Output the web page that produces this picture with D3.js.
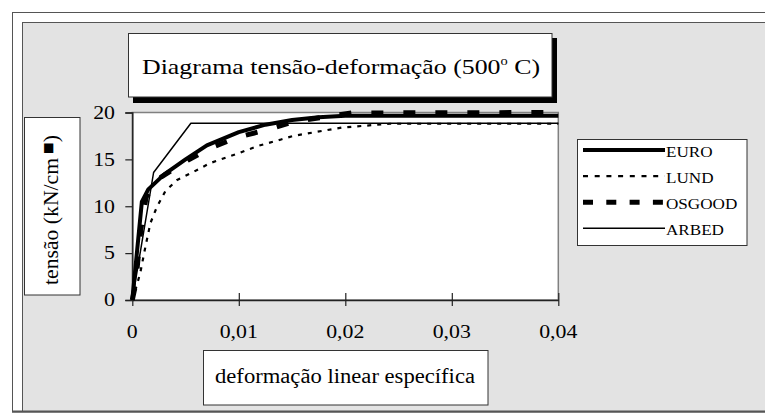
<!DOCTYPE html>
<html><head><meta charset="utf-8">
<script src="https://cdn.jsdelivr.net/npm/d3@7"></script>
<style>body{margin:0;background:#fff}svg{display:block}</style>
</head><body>
<svg id="c" width="765" height="413"></svg>
<script>
// ---- data (strain, stress kN/cm²) ----
const seriesNames = ["EURO", "LUND", "OSGOOD", "ARBED"];
const euro   = [[0,0],[0.0009,10.5],[0.0015,11.8],[0.003,13.4],[0.005,15.0],[0.007,16.5],[0.01,17.9],[0.0125,18.7],[0.015,19.2],[0.0175,19.5],[0.02,19.65],[0.04,19.65]];
const lund   = [[0,0],[0.0004,1.5],[0.00075,2.9],[0.0012,5.5],[0.0017,8.2],[0.0023,9.9],[0.0031,11.6],[0.0042,12.8],[0.0058,13.7],[0.0073,14.6],[0.0101,15.7],[0.0117,16.4],[0.0139,17.1],[0.0151,17.5],[0.0197,18.4],[0.0242,18.8],[0.04,18.8]];
const osgood = [[0,0],[0.0003,1.6],[0.0008,7.5],[0.0013,11.0],[0.0027,13.1],[0.0052,14.9],[0.0073,16.2],[0.01,17.4],[0.0128,18.2],[0.0151,19.0],[0.0206,19.95],[0.04,20.0]];
const arbed  = [[0,0],[0.002,13.6],[0.0055,18.85],[0.04,18.85]];
const xTicks = [0, 0.01, 0.02, 0.03, 0.04];
const xTickLabels = ["0", "0,01", "0,02", "0,03", "0,04"];
const yTicks = [0, 5, 10, 15, 20];
const yTickLabels = ["0", "5", "10", "15", "20"];
const titleMain = "Diagrama tensão-deformação (500";
const titleSup = "o";
const titleEnd = " C)";
const yTitle = "tensão (kN/cm";
const xTitle = "deformação linear específica";

const FONT = '"Liberation Serif", "Times New Roman", Tinos';
const svg = d3.select("#c");
const SX = 1.18; // horizontal stretch of small text

// frames
svg.append("rect").attr("x",12.5).attr("y",12.5).attr("width",800).attr("height",399.5)
  .attr("fill","#fff").attr("stroke","#555").attr("stroke-width",1);
svg.append("rect").attr("x",22.5).attr("y",22.5).attr("width",800).attr("height",389)
  .attr("fill","#e3e3e3").attr("stroke","#555").attr("stroke-width",1);
svg.append("line").attr("x1",12).attr("x2",765).attr("y1",411.5).attr("y2",411.5).attr("stroke","#555").attr("stroke-width",2);

const x = d3.scaleLinear().domain([0,0.04]).range([132.3,558.3]);
const y = d3.scaleLinear().domain([0,20]).range([300,112.5]);

// plot area
svg.append("rect").attr("x",x(0)).attr("y",y(20)).attr("width",x(0.04)-x(0)).attr("height",y(0)-y(20))
  .attr("fill","#fff").attr("stroke","#808080").attr("stroke-width",1.5);

function stext(g, xx, yy, str, size, anchor){
  const t = g.append("text")
    .attr("transform", `translate(${xx},${yy}) scale(${SX},1)`)
    .style("font-family", FONT).attr("fill","#000")
    .attr("font-size", size).attr("text-anchor", anchor || "start");
  if (str !== null) t.text(str);
  return t;
}
function ltext(g, xx, yy, size, len, rot){
  return g.append("text")
    .attr("transform", `translate(${xx},${yy})` + (rot ? ` rotate(${rot})` : ""))
    .style("font-family", FONT).attr("fill","#000")
    .attr("font-size", size).attr("text-anchor", "start")
    .attr("textLength", len).attr("lengthAdjust", "spacingAndGlyphs");
}

// axes
const xAxis = d3.axisBottom(x).tickValues(xTicks).tickSize(0).tickFormat("");
const gx = svg.append("g").attr("transform",`translate(0,${y(0)})`).call(xAxis);
gx.select(".domain").attr("stroke","#222").attr("stroke-width",1.5);
gx.selectAll(".tick").append("line").attr("y1",-7).attr("y2",6).attr("stroke","#222").attr("stroke-width",1.2);
const yAxis = d3.axisLeft(y).tickValues(yTicks).tickSize(7).tickFormat("");
const gy = svg.append("g").attr("transform",`translate(${x(0)},0)`).call(yAxis);
gy.select(".domain").attr("stroke","#222").attr("stroke-width",1.5);
gy.selectAll(".tick line").attr("stroke","#222").attr("stroke-width",1.2);

xTicks.forEach((v,i)=> stext(svg, x(v), 338, xTickLabels[i], 18.5, "middle"));
yTicks.forEach((v,i)=> stext(svg, 115, y(v)+6.3, yTickLabels[i], 18.5, "end"));

// series
const styles = {
  EURO:   {w:4,   dash:null},
  LUND:   {w:2.2, dash:"4,6"},
  OSGOOD: {w:5,   dash:"12,20"},
  ARBED:  {w:1.5, dash:null}
};
const legendDash = {EURO:null, LUND:"5,6.7", OSGOOD:"10,13.3", ARBED:null};
const data = {EURO:euro, LUND:lund, OSGOOD:osgood, ARBED:arbed};
const line = d3.line().x(d=>x(d[0])).y(d=>y(d[1]));
svg.append("clipPath").attr("id","pc").append("rect")
  .attr("x",x(0)-4).attr("y",y(20)-4).attr("width",x(0.04)-x(0)+8).attr("height",y(0)-y(20)+6);
seriesNames.forEach(n=>{
  svg.append("path").datum(data[n]).attr("d",line).attr("fill","none").attr("stroke","#000")
    .attr("stroke-width",styles[n].w).attr("stroke-dasharray",styles[n].dash)
    .attr("stroke-linejoin","round").attr("clip-path","url(#pc)");
});

// title box with shadow
svg.append("rect").attr("x",133).attr("y",38).attr("width",424).attr("height",65).attr("fill","#000");
svg.append("rect").attr("x",128.5).attr("y",33.5).attr("width",423.5).attr("height",63.5).attr("fill","#fff").attr("stroke","#333");
const tt = ltext(svg, 142, 74, 21.5, 398);
tt.append("tspan").text(titleMain);
tt.append("tspan").attr("font-size",12).attr("dy",-9).text(titleSup);
tt.append("tspan").attr("dy",9).text(titleEnd);

// y title box
svg.append("rect").attr("x",24.5).attr("y",117.5).attr("width",55.5).attr("height",177.5).attr("fill","#fff").attr("stroke","#333");
const yt = ltext(svg, 58, 285, 21, 150, -90);
yt.append("tspan").text(yTitle);
yt.append("tspan").attr("font-size",12).attr("dy",-6).style("font-family","DejaVu Sans").text(" ■");
yt.append("tspan").attr("dy",6).text(")");

// x title box
svg.append("rect").attr("x",203.5).attr("y",350.5).attr("width",284.5).attr("height",54.5).attr("fill","#fff").attr("stroke","#333");
ltext(svg, 215, 383, 20.5, 260).text(xTitle);

// legend
svg.append("rect").attr("x",577.5).attr("y",139.5).attr("width",169.5).attr("height",106).attr("fill","#fff").attr("stroke","#333");
seriesNames.forEach((n,i)=>{
  const by = 157 + i*26.1;
  svg.append("line").attr("x1",583).attr("x2",665).attr("y1",by-7).attr("y2",by-7)
    .attr("stroke","#000").attr("stroke-width",styles[n].w).attr("stroke-dasharray",legendDash[n]);
  stext(svg, 666, by, n, 14.5, "start");
});
</script>
</body></html>
